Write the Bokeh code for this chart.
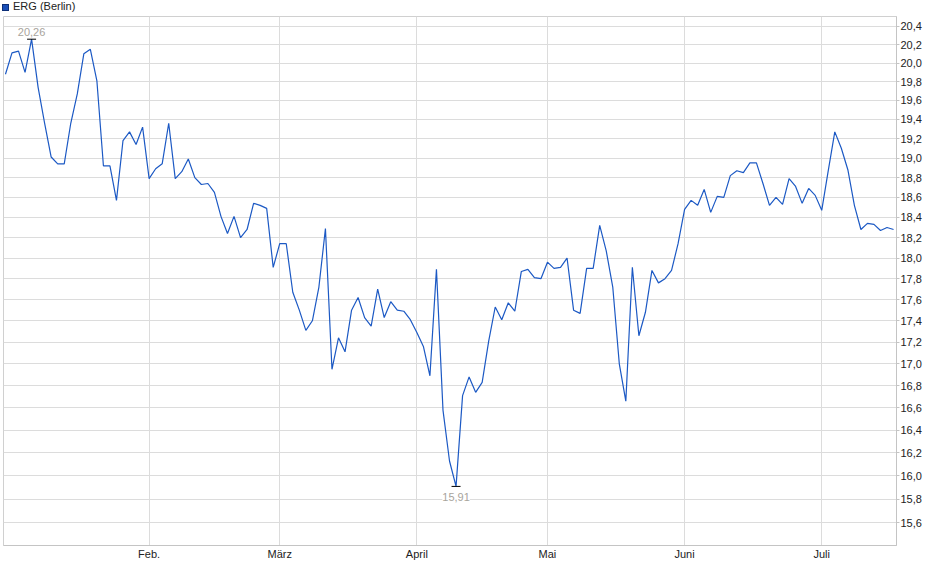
import numpy as np
import pandas as pd
from bokeh.plotting import figure
from bokeh.layouts import column
from bokeh.models import ColumnDataSource, Range1d, FixedTicker, CustomJSTickFormatter, Div
from bokeh.core.properties import value
from bokeh.embed import file_html
from bokeh.resources import INLINE

# Handelstage 2025 (Berlin), ohne Feiertage
feiertage = ["2025-04-18", "2025-04-21", "2025-05-01"]
tage = pd.bdate_range("2025-01-02", "2025-07-16").drop(pd.to_datetime(feiertage))

# Schlusskurse ERG (Berlin)
kurs = [
    19.88, 20.11, 20.13, 19.90, 20.26, 19.74, 19.36, 19.01, 18.94, 18.94,
    19.36, 19.67, 20.10, 20.15, 19.81, 18.92, 18.92, 18.57, 19.18, 19.27,
    19.14, 19.32, 18.79, 18.89, 18.94, 19.36, 18.79, 18.86, 18.99, 18.80,
    18.73, 18.74, 18.65, 18.41, 18.24, 18.41, 18.20, 18.28, 18.54, 18.52,
    18.49, 17.91, 18.14, 18.14, 17.67, 17.50, 17.31, 17.40, 17.72, 18.29,
    16.95, 17.24, 17.11, 17.50, 17.62, 17.43, 17.35, 17.70, 17.43, 17.58,
    17.50, 17.49, 17.41, 17.29, 17.16, 16.89, 17.89, 16.58, 16.13, 15.91,
    16.71, 16.88, 16.74, 16.83, 17.21, 17.53, 17.41, 17.57, 17.49, 17.87,
    17.89, 17.81, 17.80, 17.96, 17.90, 17.91, 18.00, 17.50, 17.47, 17.90,
    17.90, 18.32, 18.07, 17.72, 17.00, 16.66, 17.91, 17.26, 17.48, 17.88,
    17.76, 17.80, 17.88, 18.14, 18.48, 18.57, 18.52, 18.68, 18.45, 18.61,
    18.60, 18.82, 18.87, 18.85, 18.95, 18.95, 18.74, 18.52, 18.60, 18.53,
    18.79, 18.71, 18.54, 18.69, 18.62, 18.47, 18.87, 19.27, 19.10, 18.88,
    18.52, 18.28, 18.34, 18.33, 18.27, 18.30, 18.28,
]

titel = "ERG (Berlin)"
monate = ["Feb.", "März", "April", "Mai", "Juni", "Juli"]
y_ticks = [round(15.6 + 0.2 * i, 1) for i in range(25)]

idx = list(range(len(kurs)))
source = ColumnDataSource(data=dict(x=idx, y=kurs))

# erster Handelstag jedes Monats (ab Februar)
monat_nr = tage.month.values
month_idx = [int(np.argmax(monat_nr == m)) for m in range(2, 8)]

blau = "#1c59c4"
grau = "#dcdcdc"
font = "Liberation Sans"

# Legende als kleine Kopfzeile über dem Chart
kopf = Div(text=('<span style="display:inline-block;width:7px;height:7px;'
                 'background:#1a4fb8;border:1px solid #0d2f78;margin-right:4px;'
                 'vertical-align:-1px;"></span>' + titel),
           width=924, height=16, margin=0,
           styles={"font-family": font, "font-size": "11px", "color": "#222222",
                   "line-height": "12px", "padding-left": "2px"})

p = figure(width=924, height=547,
           x_range=Range1d(-0.3, len(kurs) - 0.55), y_range=Range1d(15.41, 20.51),
           y_axis_type="log", y_axis_location="right",
           toolbar_location=None, output_backend="svg",
           min_border_left=3, min_border_right=26, min_border_top=0, min_border_bottom=18)

p.line(x="x", y="y", source=source, line_color=blau, line_width=1.2)

# Hoch / Tief markieren
i_max = int(np.argmax(kurs))
i_min = int(np.argmin(kurs))
p.scatter(x=[i_max, i_min], y=[kurs[i_max], kurs[i_min]], marker="dash", size=9,
          line_color="black", line_width=1)
p.text(x=[i_max], y=[kurs[i_max]], text=[f"{kurs[i_max]:.2f}".replace(".", ",")],
       text_font=value(font), text_font_size="11px", text_color="#a8a49c",
       text_align="center", text_baseline="bottom", y_offset=-3,
       background_fill_color="white")
p.text(x=[i_min], y=[kurs[i_min]], text=[f"{kurs[i_min]:.2f}".replace(".", ",")],
       text_font=value(font), text_font_size="11px", text_color="#a8a49c",
       text_align="center", text_baseline="top", y_offset=7,
       background_fill_color="white")

# Achsen
p.yaxis.ticker = FixedTicker(ticks=y_ticks, minor_ticks=[])
p.yaxis.formatter = CustomJSTickFormatter(code="return tick.toFixed(1).replace('.', ',');")
p.yaxis.major_tick_out = 3
p.yaxis.major_tick_in = 0
p.yaxis.major_label_standoff = 1
p.ygrid.ticker = FixedTicker(ticks=y_ticks, minor_ticks=[])

p.xaxis.ticker = FixedTicker(ticks=month_idx, minor_ticks=[])
p.xaxis.major_label_overrides = {i: m for i, m in zip(month_idx, monate)}
p.xaxis.major_tick_out = 0
p.xaxis.major_tick_in = 0
p.xaxis.major_label_standoff = 2
p.xgrid.ticker = FixedTicker(ticks=month_idx, minor_ticks=[])

for ax in (p.xaxis, p.yaxis):
    ax.axis_line_color = "#c4c4c4"
    ax.major_tick_line_color = "#c4c4c4"
    ax.minor_tick_line_color = None
    ax.major_label_text_font = font
    ax.major_label_text_font_size = "11px"
    ax.major_label_text_color = "#222222"

p.grid.grid_line_color = grau
p.outline_line_color = "#d0d0d0"
p.background_fill_color = "white"

layout = column(kopf, p, spacing=0)

open("out.html", "w").write(file_html(layout, INLINE))
